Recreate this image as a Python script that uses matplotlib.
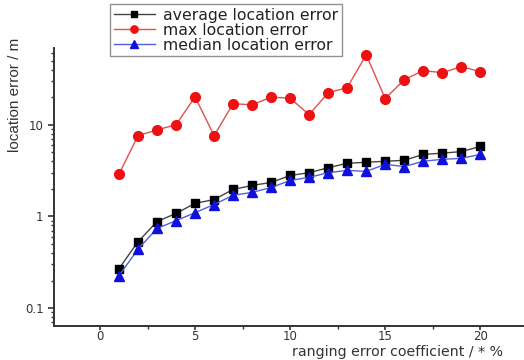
import matplotlib.pyplot as plt
from matplotlib.ticker import MultipleLocator, LogLocator, NullFormatter, FixedLocator

plt.rcParams['font.family'] = ['DejaVu Sans']

coef = list(range(1, 21))
avg_err = [0.27, 0.53, 0.88, 1.08, 1.39, 1.53, 1.97, 2.18, 2.35, 2.8,
           3.0, 3.4, 3.8, 3.9, 4.0, 4.1, 4.75, 4.9, 5.1, 5.8]
max_err = [2.9, 7.6, 8.8, 10.0, 20.2, 7.6, 17.0, 16.5, 20.0, 19.5,
           12.9, 22.4, 25.4, 58.0, 19.3, 31.0, 39.0, 37.0, 43.0, 38.0]
med_err = [0.226, 0.44, 0.74, 0.90, 1.1, 1.35, 1.7, 1.83, 2.07, 2.47,
           2.67, 3.0, 3.18, 3.1, 3.7, 3.5, 4.0, 4.2, 4.3, 4.75]
ytick_vals = [0.1, 1, 10]
ytick_text = ['0.1', '1', '10']

fig = plt.figure(figsize=(5.24, 3.6), dpi=100)
ax = fig.add_axes([0.103, 0.094, 0.897, 0.773])

ax.plot(coef, avg_err, color='#444444', lw=1.0, marker='s', ms=6,
        mfc='black', mec='black', label='average location error')
ax.plot(coef, max_err, color='#e05050', lw=1.0, marker='o', ms=7,
        mfc='#ee1111', mec='#ee1111', label='max location error')
ax.plot(coef, med_err, color='#5060e0', lw=1.0, marker='^', ms=7,
        mfc='#1010dd', mec='#1010dd', label='median location error')

ax.set_yscale('log')
ax.set_ylim(0.0636, 69)
ax.set_xlim(-2.42, 22.3)

ax.yaxis.set_major_locator(FixedLocator(ytick_vals))
ax.set_yticklabels(ytick_text)
ax.yaxis.set_minor_locator(LogLocator(base=10, subs=range(2, 10), numticks=10))
ax.yaxis.set_minor_formatter(NullFormatter())
ax.xaxis.set_major_locator(MultipleLocator(5))
ax.xaxis.set_minor_locator(MultipleLocator(2.5))

for side in ['top', 'right']:
    ax.spines[side].set_visible(False)
for side in ['left', 'bottom']:
    ax.spines[side].set_linewidth(1.4)
    ax.spines[side].set_color('#333333')

ax.tick_params(axis='both', which='major', direction='out', length=4,
               width=1.2, color='#333333', labelsize=8.5, labelcolor='#333333')
ax.tick_params(axis='x', which='major', length=3, pad=0)
ax.tick_params(axis='both', which='minor', direction='out', length=2.5,
               width=1.0, color='#333333')

ax.set_ylabel('location error / m', fontsize=11, color='#333333',
              family=['Liberation Sans'])
ax.yaxis.set_label_coords(-0.068, 0.83)
ax.set_xlabel('ranging error coefficient / * %', fontsize=10.2,
              color='#333333')
ax.xaxis.set_label_coords(0.73, -0.066)

leg = fig.legend(loc='upper left', bbox_to_anchor=(0.21, 0.99),
                 fontsize=11.3, frameon=True, fancybox=False,
                 handlelength=2.6, handletextpad=0.5, borderpad=0.25,
                 labelspacing=0.0, markerscale=0.75, borderaxespad=0)
leg.get_frame().set_edgecolor('#777777')
leg.get_frame().set_linewidth(1.0)
for t in leg.get_texts():
    t.set_color('#222222')

fig.savefig('out.png', dpi=100)
